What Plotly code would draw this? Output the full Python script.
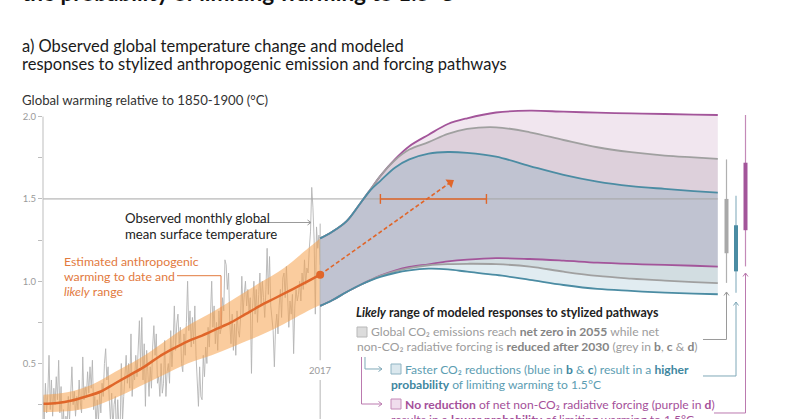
import plotly.graph_objects as go

# ---------------- data ----------------
OBS_START = 1960.0
OBS_STEP = 0.25
OBS_VALUES = [
    0.30, 0.15, 0.38, 0.20, 0.32, 0.55, 0.22, 0.40, 0.18, 0.35, 0.25, 0.42,
    0.28, 0.52, 0.20, 0.36, 0.10, 0.22, 0.05, 0.18, 0.12, 0.30, 0.15, 0.35,
    0.48, 0.25, 0.33, 0.18, 0.30, 0.22, 0.40, 0.26, 0.20, 0.54, 0.28, 0.36,
    0.30, 0.45, 0.32, 0.48, 0.35, 0.52, 0.22, 0.30, 0.12, 0.28, 0.15, 0.32,
    0.20, 0.38, 0.30, 0.50, 0.59, 0.40, 0.48, 0.28, 0.15, 0.32, 0.10, 0.25,
    0.30, 0.05, 0.28, 0.12, 0.08, 0.50, 0.15, 0.30, 0.42, 0.55, 0.38, 0.50,
    0.35, 0.68, 0.30, 0.45, 0.40, 0.55, 0.42, 0.62, 0.76, 0.48, 0.78, 0.40,
    0.62, 0.24, 0.58, 0.45, 0.30, 0.48, 0.35, 0.60, 0.73, 0.55, 0.68, 0.38,
    0.42, 0.30, 0.50, 0.32, 0.38, 0.64, 0.30, 0.45, 0.50, 0.38, 0.70, 0.48,
    0.62, 0.85, 0.58, 0.74, 0.80, 0.62, 0.72, 0.50, 0.45, 0.68, 0.55, 0.75,
    1.00, 0.70, 0.82, 0.60, 0.78, 0.62, 0.85, 0.55, 0.40, 0.24, 0.48, 0.30,
    0.28, 0.55, 0.42, 0.60, 0.50, 0.72, 0.60, 0.80, 1.00, 0.72, 0.85, 0.62,
    0.75, 0.58, 0.82, 0.68, 0.72, 0.90, 0.82, 1.13, 1.10, 0.95, 1.05, 0.75,
    0.62, 0.80, 0.58, 0.74, 0.55, 0.82, 0.70, 0.66, 0.78, 1.03, 0.80, 0.92,
    1.00, 0.85, 0.95, 0.82, 0.90, 0.44, 0.85, 1.00, 0.80, 0.95, 0.75, 0.92,
    1.05, 0.85, 1.00, 0.90, 0.78, 0.95, 1.20, 0.92, 1.15, 0.85, 0.78, 0.70,
    0.48, 0.72, 0.80, 0.68, 0.85, 0.95, 0.78, 1.02, 1.05, 0.90, 1.09, 0.85,
    0.72, 0.88, 0.80, 0.92, 0.56, 0.85, 0.95, 0.88, 0.92, 1.00, 0.88, 1.05,
    0.95, 1.13, 0.98, 1.08, 1.05, 1.20, 1.30, 1.57, 1.45, 1.25, 0.80, 1.33,
    1.20, 1.28, 1.10,
]
OBS_YEARS = [OBS_START + i * OBS_STEP for i in range(len(OBS_VALUES))]

ANTH_YEARS = [1960, 1963, 1966, 1969, 1972, 1975, 1978, 1981, 1984, 1987,
              1990, 1993, 1996, 1999, 2002, 2005, 2008, 2011, 2014, 2017.5]
ANTH_VALUES = [0.255, 0.26, 0.275, 0.30, 0.33, 0.38, 0.43, 0.48, 0.54, 0.59,
               0.635, 0.67, 0.71, 0.75, 0.80, 0.85, 0.895, 0.94, 0.985, 1.04]

BAND_YEARS = [1960, 1965, 1970, 1975, 1980, 1985, 1990, 1995, 2000, 2005, 2010, 2015, 2017.5]
BAND_LOW = [0.205, 0.21, 0.235, 0.29, 0.36, 0.43, 0.50, 0.55, 0.61, 0.67, 0.74, 0.82, 0.855]
BAND_HIGH = [0.31, 0.325, 0.37, 0.45, 0.53, 0.63, 0.73, 0.81, 0.90, 0.99, 1.08, 1.20, 1.26]

FAN_YEARS = [2017.5, 2020, 2023, 2026, 2028, 2030, 2033, 2036, 2040, 2044,
             2048, 2054, 2061, 2068, 2075, 2082, 2089, 2095, 2100]
BLUE_UPPER = [1.26, 1.30, 1.365, 1.48, 1.555, 1.61, 1.69, 1.74, 1.775, 1.785,
              1.78, 1.757, 1.70, 1.646, 1.605, 1.578, 1.561, 1.548, 1.538]
GREY_UPPER = [1.26, 1.30, 1.365, 1.48, 1.56, 1.64, 1.735, 1.80, 1.845, 1.895,
              1.925, 1.935, 1.905, 1.858, 1.814, 1.784, 1.763, 1.752, 1.743]
PURPLE_UPPER = [1.26, 1.30, 1.365, 1.48, 1.56, 1.64, 1.74, 1.82, 1.89, 1.955,
                1.99, 2.025, 2.036, 2.03, 2.024, 2.02, 2.016, 2.012, 2.01]
BLUE_LOWER = [0.85, 0.884, 0.935, 0.98, 1.005, 1.026, 1.05, 1.066, 1.076, 1.072,
              1.058, 1.038, 1.008, 0.977, 0.953, 0.941, 0.931, 0.925, 0.921]
GREY_LOWER = [0.85, 0.884, 0.935, 0.98, 1.008, 1.032, 1.06, 1.08, 1.097, 1.104,
              1.106, 1.104, 1.089, 1.058, 1.032, 1.016, 1.004, 0.995, 0.988]
PURPLE_LOWER = [0.85, 0.884, 0.935, 0.98, 1.008, 1.034, 1.065, 1.087, 1.103, 1.12,
                1.131, 1.14, 1.135, 1.125, 1.113, 1.105, 1.099, 1.094, 1.089]

# 2100 ranges: [thin low, thin high], [thick low, thick high]
GREY_RANGE_FULL = [0.99, 1.74]
GREY_RANGE_LIKELY = [1.17, 1.50]
BLUE_RANGE_FULL = [0.93, 1.52]
BLUE_RANGE_LIKELY = [1.06, 1.34]
PURPLE_RANGE_FULL = [1.09, 2.01]
PURPLE_RANGE_LIKELY = [1.31, 1.72]

TREND_ARROW_YEARS = [2017.5, 2044.5]
TREND_ARROW_VALUES = [1.04, 1.60]
CROSSING_YEARS = [2030, 2052]
CROSSING_LEVEL = 1.5
PRESENT_YEAR = 2017.5

Y_TICKS = [0.25, 0.5, 0.75, 1.0, 1.25, 1.5, 1.75, 2.0]
Y_TICK_TEXT = ["", "0.5", "", "1.0", "", "1.5", "", "2.0"]

# ---------------- style ----------------
FONT = "Lato"
ORANGE = "#e0662a"
ORANGE_TXT = "#e27a3e"
PURPLE = "#a3559a"
GREY = "#a0a0a0"
BLUE = "#4b8ca3"
FILL_LB = "#e1ecf1"
FILL_GB = "#d2dde1"
FILL_MAIN = "#c0c3d1"
FILL_MAUVE = "#ddd0db"
FILL_PINK = "#f1e6ef"

W, H = 800, 419
L, T = 43, 100
PW, PH = W - L, H - T
PX_PER_YEAR = 4.82
X0 = 1960
X1 = X0 + PW / PX_PER_YEAR
Y_BOTTOM, Y_TOP = 0.163, 2.101


def px(x):
    return (x - L) / PW


def py(y):
    return (H - y) / PH


fig = go.Figure()

# observed monthly
fig.add_trace(go.Scatter(x=OBS_YEARS, y=OBS_VALUES, mode="lines",
                         line=dict(color="#b4b4b4", width=0.9), hoverinfo="skip"))
# anthropogenic band
fig.add_trace(go.Scatter(x=BAND_YEARS, y=BAND_LOW, mode="lines", line=dict(width=0, shape="spline"),
                         hoverinfo="skip"))
fig.add_trace(go.Scatter(x=BAND_YEARS, y=BAND_HIGH, mode="lines", line=dict(width=0, shape="spline"),
                         fill="tonexty", fillcolor="rgba(245,163,78,0.55)", hoverinfo="skip"))

# fan fills
fills = [
    (BLUE_LOWER, None),
    (GREY_LOWER, FILL_LB),
    (PURPLE_LOWER, FILL_GB),
    (BLUE_UPPER, FILL_MAIN),
    (GREY_UPPER, FILL_MAUVE),
    (PURPLE_UPPER, FILL_PINK),
]
for vals, col in fills:
    fig.add_trace(go.Scatter(x=FAN_YEARS, y=vals, mode="lines",
                             line=dict(width=0, shape="spline"),
                             fill="tonexty" if col else None, fillcolor=col, hoverinfo="skip"))

# 1.5 reference line
fig.add_trace(go.Scatter(x=[X0, 2100], y=[CROSSING_LEVEL, CROSSING_LEVEL], mode="lines",
                         line=dict(color="#a5a5a5", width=1), hoverinfo="skip"))

# 2017 marker line
fig.add_trace(go.Scatter(x=[PRESENT_YEAR, PRESENT_YEAR], y=[0.52, 1.35], mode="lines",
                         line=dict(color="#b5b5b5", width=1), hoverinfo="skip"))
fig.add_trace(go.Scatter(x=[PRESENT_YEAR, PRESENT_YEAR], y=[Y_BOTTOM, 0.40], mode="lines",
                         line=dict(color="#b5b5b5", width=1), hoverinfo="skip"))

# anthropogenic line
fig.add_trace(go.Scatter(x=ANTH_YEARS, y=ANTH_VALUES, mode="lines",
                         line=dict(color=ORANGE, width=2.5, shape="spline"), hoverinfo="skip"))

# fan lines
for vals, col in [(PURPLE_UPPER, PURPLE), (PURPLE_LOWER, PURPLE), (GREY_UPPER, GREY),
                  (GREY_LOWER, GREY), (BLUE_UPPER, BLUE), (BLUE_LOWER, BLUE)]:
    fig.add_trace(go.Scatter(x=FAN_YEARS, y=vals, mode="lines",
                             line=dict(color=col, width=1.8, shape="spline"), hoverinfo="skip"))

# dashed trend arrow
fig.add_trace(go.Scatter(x=TREND_ARROW_YEARS, y=TREND_ARROW_VALUES, mode="lines",
                         line=dict(color=ORANGE, width=1.6, dash="4px,2.5px"), hoverinfo="skip"))
fig.add_trace(go.Scatter(x=[TREND_ARROW_YEARS[1]], y=[TREND_ARROW_VALUES[1]], mode="markers",
                         marker=dict(symbol="triangle-up", size=9, color=ORANGE, angle=55),
                         hoverinfo="skip"))
# 1.5 crossing range
fig.add_trace(go.Scatter(x=CROSSING_YEARS, y=[CROSSING_LEVEL] * 2, mode="lines+markers",
                         line=dict(color=ORANGE, width=1.4),
                         marker=dict(symbol="line-ns", size=7, line=dict(color=ORANGE, width=1.4)),
                         hoverinfo="skip"))
# present dot
fig.add_trace(go.Scatter(x=[ANTH_YEARS[-1]], y=[ANTH_VALUES[-1]], mode="markers",
                         marker=dict(size=8, color=ORANGE), hoverinfo="skip"))

shapes = []
# y-axis line
shapes.append(dict(type="line", xref="paper", yref="y", x0=0, x1=0, y0=Y_BOTTOM, y1=2.0,
                   line=dict(color="#bdbdbd", width=1)))

# 2100 range bars
bars = [
    (726.5, GREY_RANGE_FULL, GREY_RANGE_LIKELY, "#b0b0b0", "#a8a8a8"),
    (736.0, BLUE_RANGE_FULL, BLUE_RANGE_LIKELY, "#8fb4c3", BLUE),
    (745.5, PURPLE_RANGE_FULL, PURPLE_RANGE_LIKELY, "#c48ab8", PURPLE),
]
for xpix, full, likely, thin_c, thick_c in bars:
    shapes.append(dict(type="line", xref="paper", yref="y", x0=px(xpix), x1=px(xpix),
                       y0=full[0], y1=full[1], line=dict(color=thin_c, width=1.2)))
    shapes.append(dict(type="line", xref="paper", yref="y", x0=px(xpix), x1=px(xpix),
                       y0=likely[0], y1=likely[1], line=dict(color=thick_c, width=4)))


def polyline(points, color, width=1.0):
    d = "M " + " L ".join(f"{px(a):.5f},{py(b):.5f}" for a, b in points)
    return dict(type="path", xref="paper", yref="paper", path=d,
                line=dict(color=color, width=width))


def chevron_up(x, y, color):
    return polyline([(x - 2.5, y + 3.5), (x, y), (x + 2.5, y + 3.5)], color, 1)


def chevron_right(x, y, color):
    return polyline([(x - 3.5, y - 2.5), (x, y), (x - 3.5, y + 2.5)], color, 1)


# connectors from legend to bars
shapes.append(polyline([(703, 339.5), (726.5, 339.5), (726.5, 292)], "#9a9a9a"))
shapes.append(chevron_up(726.5, 292, "#9a9a9a"))
shapes.append(polyline([(703, 376), (736, 376), (736, 302)], "#7fa8b8"))
shapes.append(chevron_up(736, 302, "#7fa8b8"))
shapes.append(polyline([(714, 413), (745.5, 413), (745.5, 273)], "#bb7aaf"))
shapes.append(chevron_up(745.5, 273, "#bb7aaf"))

# left L connectors
shapes.append(polyline([(365, 357), (365, 369), (382, 369)], "#7fa8b8"))
shapes.append(chevron_right(382, 369, "#7fa8b8"))
shapes.append(polyline([(361.5, 357), (361.5, 404), (382, 404)], "#bb7aaf"))
shapes.append(chevron_right(382, 404, "#bb7aaf"))

# legend squares
for (x0, y0, fc, lc) in [(357, 327, "#dcdcdc", "#b8b8b8"),
                         (391, 364, "#dbe8ee", "#8fb4c3"),
                         (391, 399, "#f0dded", "#c48ab8")]:
    shapes.append(dict(type="rect", xref="paper", yref="paper",
                       x0=px(x0), x1=px(x0 + 10), y0=py(y0 + 10), y1=py(y0),
                       fillcolor=fc, line=dict(color=lc, width=1)))

# leaders
shapes.append(polyline([(258, 222.5), (311, 222.5)], "#999999"))
shapes.append(chevron_right(311, 222.5, "#999999"))
shapes.append(polyline([(177, 275.7), (221, 275.7), (221, 329)], ORANGE_TXT))

annotations = []


def text(x, y, s, size, color, anchor="left", bold=False):
    if bold:
        s = f"<b>{s}</b>"
    annotations.append(dict(x=px(x), y=py(y), xref="paper", yref="paper", text=s,
                            showarrow=False, xanchor=anchor, yanchor="middle",
                            font=dict(family=FONT, size=size, color=color)))


# titles
text(20, -8, "the probability of limiting warming to 1.5°C", 22.5, "#111111", bold=True)
text(20, 45.5, "a) Observed global temperature change and modeled", 16.5, "#1a1a1a")
text(20, 64, "responses to stylized anthropogenic emission and forcing pathways", 16.5, "#1a1a1a")
text(20, 100, "Global warming relative to 1850-1900 (°C)", 13.2, "#333333")

# plot annotations
text(123, 218, "Observed monthly global", 13.2, "#222222")
text(123, 233.5, "mean surface temperature", 13.2, "#222222")
text(62, 261, "Estimated anthropogenic", 12.3, ORANGE_TXT)
text(62, 276, "warming to date and", 12.3, ORANGE_TXT)
text(62, 291, "<i>likely</i> range", 12.3, ORANGE_TXT)
text(320, 370, "2017", 9.5, "#9a9a9a", anchor="center")

# legend texts
GT = "#9c9c9c"
GB = "#858585"
BT = "#5c9db2"
BB = "#3f879f"
PT = "#a5509a"
LS = 12.1
text(354, 312.5, "<b><i>Likely</i> range of modeled responses to stylized pathways</b>", 12.4, "#222222")
text(369, 331, f"Global CO₂ emissions reach <b><span style='color:{GB}'>net zero in 2055</span></b> while net",
     LS, GT)
text(355, 346, f"non-CO₂ radiative forcing is <b><span style='color:{GB}'>reduced after 2030</span></b> "
     f"(grey in <b><span style='color:{GB}'>b</span></b>, <b><span style='color:{GB}'>c</span></b> "
     f"&amp; <b><span style='color:{GB}'>d</span></b>)", LS, GT)
text(403, 369, f"Faster CO₂ reductions (blue in <b><span style='color:{BB}'>b</span></b> &amp; "
     f"<b><span style='color:{BB}'>c</span></b>) result in a <b><span style='color:{BB}'>higher</span></b>",
     LS, BT)
text(389, 384, f"<b><span style='color:{BB}'>probability</span></b> of limiting warming to 1.5°C", LS, BT)
text(403, 404, "<b>No reduction</b> of net non-CO₂ radiative forcing (purple in <b>d</b>)", LS, PT)
text(389, 420, "results in a <b>lower probability</b> of limiting warming to 1.5°C", LS, PT)

fig.update_layout(
    width=W, height=H,
    margin=dict(l=L, r=0, t=T, b=0, pad=0),
    plot_bgcolor="white", paper_bgcolor="white",
    showlegend=False,
    shapes=shapes,
    annotations=annotations,
    xaxis=dict(range=[X0, X1], visible=False, fixedrange=True),
    yaxis=dict(range=[Y_BOTTOM, Y_TOP], tickvals=Y_TICKS, ticktext=Y_TICK_TEXT,
               ticks="outside", ticklen=4, tickcolor="#bdbdbd", showgrid=False,
               zeroline=False, showline=False,
               tickfont=dict(family=FONT, size=9.5, color="#9a9a9a"), fixedrange=True),
)

fig.write_html("out.html", config={"displayModeBar": False},
               post_script="document.body.style.margin='0';document.body.style.overflow='hidden';")
